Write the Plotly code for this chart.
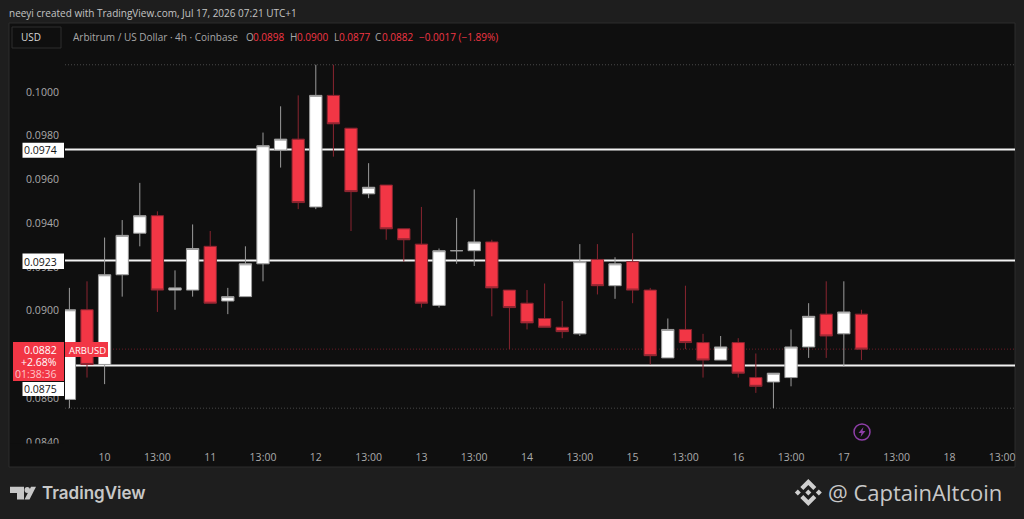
"""ARB/USD 4h candle chart in the TradingView dark style."""
import plotly.graph_objects as go

bar_times = [
    '2026-07-09 17:00', '2026-07-09 21:00',
    '2026-07-10 01:00', '2026-07-10 05:00', '2026-07-10 09:00', '2026-07-10 13:00', '2026-07-10 17:00', '2026-07-10 21:00',
    '2026-07-11 01:00', '2026-07-11 05:00', '2026-07-11 09:00', '2026-07-11 13:00', '2026-07-11 17:00', '2026-07-11 21:00',
    '2026-07-12 01:00', '2026-07-12 05:00', '2026-07-12 09:00', '2026-07-12 13:00', '2026-07-12 17:00', '2026-07-12 21:00',
    '2026-07-13 01:00', '2026-07-13 05:00', '2026-07-13 09:00', '2026-07-13 13:00', '2026-07-13 17:00', '2026-07-13 21:00',
    '2026-07-14 01:00', '2026-07-14 05:00', '2026-07-14 09:00', '2026-07-14 13:00', '2026-07-14 17:00', '2026-07-14 21:00',
    '2026-07-15 01:00', '2026-07-15 05:00', '2026-07-15 09:00', '2026-07-15 13:00', '2026-07-15 17:00', '2026-07-15 21:00',
    '2026-07-16 01:00', '2026-07-16 05:00', '2026-07-16 09:00', '2026-07-16 13:00', '2026-07-16 17:00', '2026-07-16 21:00',
    '2026-07-17 01:00', '2026-07-17 05:00',
]
opens = [
    0.0859, 0.0900,
    0.0875, 0.0916, 0.0935, 0.0943, 0.0909, 0.0909,
    0.0929, 0.0904, 0.0906, 0.0921, 0.0973, 0.0978,
    0.0947, 0.0998, 0.0983, 0.0953, 0.0957, 0.0937,
    0.0930, 0.0902, 0.0927, 0.0927, 0.0931, 0.0909,
    0.0903, 0.0896, 0.0892, 0.0889, 0.0923, 0.0911,
    0.0922, 0.0909, 0.0878, 0.0891, 0.0885, 0.0877,
    0.0885, 0.0869, 0.0867, 0.0869, 0.0883, 0.0898,
    0.0889, 0.0898,
]
highs = [
    0.0910, 0.0913,
    0.0933, 0.0941, 0.0958, 0.0945, 0.0918, 0.0939,
    0.0936, 0.0910, 0.0929, 0.0981, 0.0993, 0.0998,
    0.1012, 0.1012, 0.0983, 0.0967, 0.0957, 0.0937,
    0.0947, 0.0928, 0.0942, 0.0955, 0.0932, 0.0909,
    0.0909, 0.0912, 0.0904, 0.0930, 0.0930, 0.0924,
    0.0935, 0.0910, 0.0896, 0.0911, 0.0889, 0.0888,
    0.0887, 0.0880, 0.0871, 0.0891, 0.0903, 0.0913,
    0.0913, 0.0900,
]
lows = [
    0.0855, 0.0869,
    0.0866, 0.0906, 0.0929, 0.0899, 0.0900, 0.0906,
    0.0903, 0.0898, 0.0906, 0.0913, 0.0965, 0.0946,
    0.0946, 0.0970, 0.0936, 0.0951, 0.0932, 0.0922,
    0.0901, 0.0901, 0.0921, 0.0920, 0.0897, 0.0882,
    0.0891, 0.0892, 0.0887, 0.0888, 0.0907, 0.0905,
    0.0903, 0.0875, 0.0878, 0.0882, 0.0869, 0.0877,
    0.0869, 0.0862, 0.0855, 0.0865, 0.0878, 0.0878,
    0.0874, 0.0877,
]
closes = [
    0.0900, 0.0875,
    0.0916, 0.0934, 0.0943, 0.0909, 0.0910, 0.0928,
    0.0903, 0.0906, 0.0921, 0.0975, 0.0978, 0.0949,
    0.0998, 0.0985, 0.0954, 0.0956, 0.0937, 0.0932,
    0.0903, 0.0927, 0.0927, 0.0931, 0.0910, 0.0901,
    0.0894, 0.0892, 0.0890, 0.0922, 0.0911, 0.0921,
    0.0909, 0.0879, 0.0891, 0.0885, 0.0877, 0.0883,
    0.0871, 0.0865, 0.0871, 0.0883, 0.0897, 0.0888,
    0.0899, 0.0882,
]

price_ticks = [0.1000, 0.0980, 0.0960, 0.0940, 0.0920, 0.0900, 0.0860, 0.0840]
time_ticks = [
    '2026-07-10 01:00', '2026-07-10 13:00', '2026-07-11 01:00', '2026-07-11 13:00',
    '2026-07-12 01:00', '2026-07-12 13:00', '2026-07-13 01:00', '2026-07-13 13:00',
    '2026-07-14 01:00', '2026-07-14 13:00', '2026-07-15 01:00', '2026-07-15 13:00',
    '2026-07-16 01:00', '2026-07-16 13:00', '2026-07-17 01:00', '2026-07-17 13:00',
    '2026-07-18 01:00', '2026-07-18 13:00',
]
time_labels = ['10', '13:00', '11', '13:00', '12', '13:00', '13', '13:00', '14', '13:00',
               '15', '13:00', '16', '13:00', '17', '13:00', '18', '13:00']

level_prices = [0.09733, 0.09225, 0.08745]
dotted_prices = [0.1012, 0.0855]
last_price = 0.0882

PAPER = '#1e1e1e'
PANE = '#0f0f0f'
RED = '#f23645'
LABEL = '#ababab'
FONT = 'Open Sans'

# plot area in picture pixels
LEFT, RIGHT, TOP, BOTTOM = 65, 1015, 23, 443


def px(x):
    return (x - LEFT) / (RIGHT - LEFT)


def py(y):
    return (BOTTOM - y) / (BOTTOM - TOP)


def box(x0, y0, x1, y1, fill, layer='above', line=None):
    return dict(type='rect', xref='paper', yref='paper', x0=px(x0), x1=px(x1), y0=py(y0), y1=py(y1),
                fillcolor=fill, line=dict(color=line or fill, width=1 if line else 0), layer=layer)


def polygon(points, fill):
    path = 'M' + ' L'.join(f'{px(x):.5f},{py(y):.5f}' for x, y in points) + ' Z'
    return dict(type='path', xref='paper', yref='paper', path=path, fillcolor=fill,
                line=dict(width=0), layer='above')


def text(x, y, s, size=10, color=LABEL, anchor='left', family=FONT, weight=None):
    font = dict(size=size, color=color, family=family)
    if weight:
        font['weight'] = weight
    return dict(xref='paper', yref='paper', x=px(x), y=py(y), text=s, showarrow=False,
                xanchor=anchor, yanchor='middle', font=font, align=anchor)


fig = go.Figure(go.Candlestick(
    x=bar_times, open=opens, high=highs, low=lows, close=closes,
    increasing=dict(fillcolor='#ffffff', line=dict(color='#9c9c9c', width=1)),
    decreasing=dict(fillcolor=RED, line=dict(color='#8a2530', width=1)),
    whiskerwidth=0, showlegend=False,
))

shapes = [
    box(9, 23, 1015, 467, PANE, layer='below', line='#2c2c2c'),
    # hides the lower half of the last price label, as the price pane ends there
    box(10, 443.5, 64, 466, PANE),
]
for price in dotted_prices:
    shapes.append(dict(type='line', xref='paper', yref='y', x0=0, x1=1, y0=price, y1=price, layer='below',
                       line=dict(color='#484848', width=1, dash='1px,2px')))
shapes.append(dict(type='line', xref='paper', yref='y', x0=0, x1=1, y0=last_price, y1=last_price, layer='below',
                   line=dict(color='#6b1c27', width=1, dash='1px,2px')))
for price in level_prices:
    shapes.append(dict(type='line', xref='paper', yref='y', x0=0, x1=1, y0=price, y1=price, layer='below',
                       line=dict(color='#f2f2f2', width=2)))

# price scale labels
shapes += [
    box(22.5, 142.7, 64, 157.7, '#ffffff'),
    box(22.5, 253.5, 64, 269, '#ffffff'),
    box(22.5, 382, 64, 396, '#ffffff'),
    box(13, 342, 64, 381, RED),
    box(65, 342, 108, 357, RED),
    box(12, 27, 61, 48, PANE, line='#2e2e2e'),
]
# TradingView mark
shapes += [
    polygon([(10, 486.7), (24, 486.7), (24, 499.5), (17, 499.5), (17, 493), (10, 493)], '#c8c8c8'),
    polygon([(31, 486.7), (36, 486.7), (29.5, 499.5), (24.5, 499.5)], '#c8c8c8'),
    dict(type='circle', xref='paper', yref='paper', x0=px(24.5), x1=px(30), y0=py(493), y1=py(487),
         fillcolor='#c8c8c8', line=dict(width=0), layer='above'),
]
# CaptainAltcoin mark
cx, cy = 808.3, 492.5
for dx in (-10.5, 0, 10.5):
    shapes.append(polygon([(cx + dx - 3, cy), (cx + dx, cy - 3), (cx + dx + 3, cy), (cx + dx, cy + 3)], '#cfcfcf'))
for s in (-1, 1):
    shapes.append(polygon([(cx - 8, cy + s * 5.5), (cx, cy + s * 13.5), (cx + 8, cy + s * 5.5), (cx + 5, cy + s * 2.5),
                           (cx, cy + s * 7.5), (cx - 5, cy + s * 2.5)], '#cfcfcf'))
# bolt marker on the time pane
shapes += [
    dict(type='circle', xref='paper', yref='paper', x0=px(854), x1=px(870), y0=py(440), y1=py(424),
         fillcolor=PANE, line=dict(color='#8e3fa8', width=1.5), layer='above'),
    polygon([(863.5, 427), (858.5, 433), (861.5, 433), (860.5, 437), (865.5, 431), (862.5, 431)], '#8e3fa8'),
]

annotations = [
    text(7, 13, 'neeyi created with TradingView.com, Jul 17, 2026 07:21 UTC+1', size=10, color='#c4c4c4', weight=500),
    text(19, 37.5, 'USD', size=10, color='#d6d6d6'),
    text(71, 36.5, 'Arbitrum / US Dollar · 4h · Coinbase', size=10, color='#a8a8a8'),
    text(244, 36.5, 'O', size=10, color='#a8a8a8'),
    text(251, 36.5, '0.0898', size=10, color=RED),
    text(288, 36.5, 'H', size=10, color='#a8a8a8'),
    text(295, 36.5, '0.0900', size=10, color=RED),
    text(332, 36.5, 'L', size=10, color='#a8a8a8'),
    text(337, 36.5, '0.0877', size=10, color=RED),
    text(373, 36.5, 'C', size=10, color='#a8a8a8'),
    text(380, 36.5, '0.0882', size=10, color=RED),
    text(417, 36.5, '−0.0017 (−1.89%)', size=10, color=RED),
    text(59, 150, '0.0974', size=10.5, color='#131313', anchor='right'),
    text(59, 261.5, '0.0923', size=10.5, color='#131313', anchor='right'),
    text(59, 389, '0.0875', size=10.5, color='#131313', anchor='right'),
    text(59, 350, '0.0882', size=10.5, color='#ffffff', anchor='right'),
    text(59, 362, '+2.68%', size=10.5, color='#ffffff', anchor='right'),
    text(59, 374, '01:38:36', size=10.5, color='#ffc4c9', anchor='right'),
    text(87, 350, 'ARBUSD', size=9.5, color='#ffffff', anchor='center'),
    text(40, 493, 'TradingView', size=17, color='#c8c8c8', family='Inter', weight=600),
    text(826, 492, '@ CaptainAltcoin', size=22, color='#c8c8c8', family='Open Sans'),
]

fig.update_layout(
    width=1024, height=519,
    margin=dict(l=LEFT, r=1024 - RIGHT, t=TOP, b=519 - BOTTOM, pad=0),
    paper_bgcolor=PAPER, plot_bgcolor=PANE,
    font=dict(family=FONT, color=LABEL, size=10),
    shapes=shapes, annotations=annotations,
    xaxis=dict(
        type='date', range=['2026-07-09 16:00', '2026-07-18 15:54'], rangeslider=dict(visible=False),
        tickmode='array', tickvals=time_ticks, ticktext=time_labels,
        showgrid=False, zeroline=False, showline=False,
        ticks='outside', ticklen=4, tickcolor='rgba(0,0,0,0)',
        tickfont=dict(size=10.5, color=LABEL, family=FONT),
    ),
    yaxis=dict(
        range=[0.083909, 0.103109],
        tickmode='array', tickvals=price_ticks, ticktext=[f'{p:.4f}' for p in price_ticks],
        showgrid=False, zeroline=False, showline=False,
        ticks='outside', ticklen=3, tickcolor='rgba(0,0,0,0)', ticklabelshift=1,
        tickfont=dict(size=10.5, color=LABEL, family=FONT),
    ),
    boxgap=0.0,
)

# the page's default body margin would push the figure 8px off
fig.write_html('out.html', config={'displayModeBar': False}, post_script="document.body.style.margin = '0';")
